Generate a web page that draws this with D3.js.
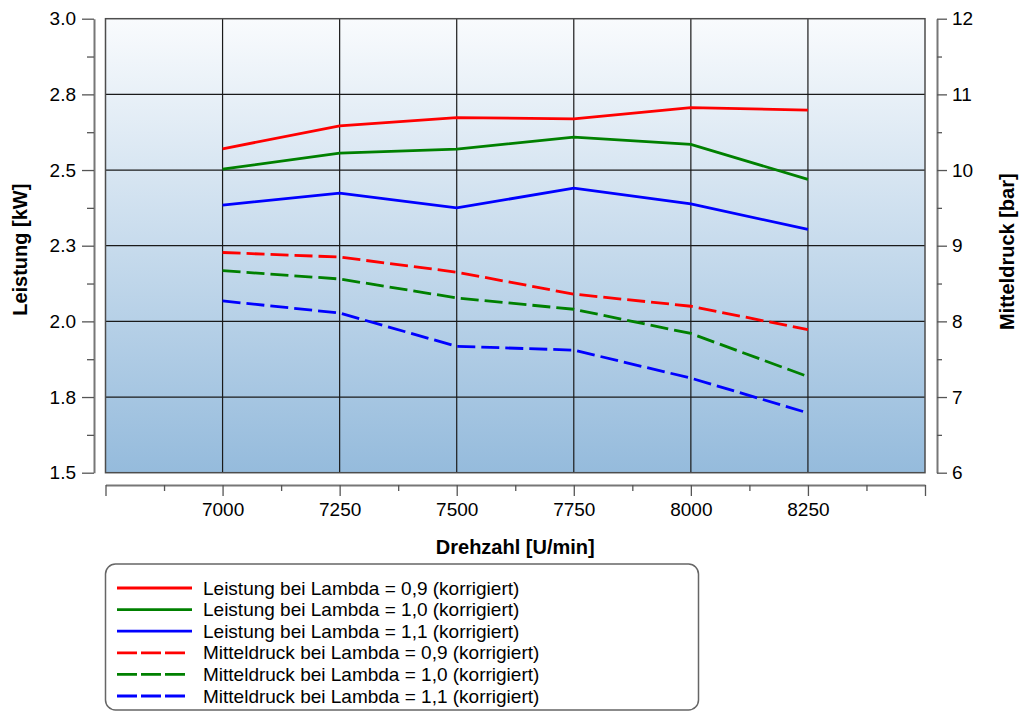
<!DOCTYPE html>
<html>
<head>
<meta charset="utf-8">
<script src="https://cdn.jsdelivr.net/npm/d3@7.9.0/dist/d3.min.js"></script>
<style>
  body { margin: 0; background: #fff; }
  svg { display: block; font-family: "Liberation Sans", Arial, sans-serif; }
</style>
</head>
<body>
<svg id="chart" width="1019" height="711"></svg>
<script>
// Drehzahl (x) values
const rpm = [7000, 7250, 7500, 7750, 8000, 8250];

// Leistung [kW] - left axis
const leistung09 = [2.570, 2.646, 2.673, 2.669, 2.706, 2.698];
const leistung10 = [2.503, 2.556, 2.569, 2.609, 2.585, 2.469];
const leistung11 = [2.384, 2.424, 2.375, 2.440, 2.388, 2.304];

// Mitteldruck [bar] - right axis
const mittel09 = [8.91, 8.85, 8.65, 8.36, 8.20, 7.89];
const mittel10 = [8.67, 8.56, 8.31, 8.16, 7.84, 7.27];
const mittel11 = [8.27, 8.11, 7.67, 7.62, 7.25, 6.79];

const leftTicks = [1.5, 1.75, 2.0, 2.25, 2.5, 2.75, 3.0];
const rightTicks = [6, 7, 8, 9, 10, 11, 12];
const xTicks = [6750, 7000, 7250, 7500, 7750, 8000, 8250, 8500];
const xLabels = [7000, 7250, 7500, 7750, 8000, 8250];

const seriesNames = [
  'Leistung bei Lambda = 0,9 (korrigiert)',
  'Leistung bei Lambda = 1,0 (korrigiert)',
  'Leistung bei Lambda = 1,1 (korrigiert)',
  'Mitteldruck bei Lambda = 0,9 (korrigiert)',
  'Mitteldruck bei Lambda = 1,0 (korrigiert)',
  'Mitteldruck bei Lambda = 1,1 (korrigiert)',
];

const series = [
  { name: seriesNames[0], values: leistung09, color: '#ff0000', axis: 'left', dash: null },
  { name: seriesNames[1], values: leistung10, color: '#008000', axis: 'left', dash: null },
  { name: seriesNames[2], values: leistung11, color: '#0000ff', axis: 'left', dash: null },
  { name: seriesNames[3], values: mittel09, color: '#ff0000', axis: 'right', dash: '18,6' },
  { name: seriesNames[4], values: mittel10, color: '#008000', axis: 'right', dash: '18,6' },
  { name: seriesNames[5], values: mittel11, color: '#0000ff', axis: 'right', dash: '18,6' },
];

const plot = { left: 105.5, right: 925, top: 18.7, bottom: 472.7 };

const svg = d3.select('#chart');

const xScale = d3.scaleLinear().domain([6750, 8500]).range([plot.left, plot.right]);
const yLeft = d3.scaleLinear().domain([1.5, 3.0]).range([plot.bottom, plot.top]);
const yRight = d3.scaleLinear().domain([6, 12]).range([plot.bottom, plot.top]);

// background gradient
const defs = svg.append('defs');
const grad = defs.append('linearGradient')
  .attr('id', 'bg')
  .attr('x1', 0).attr('y1', 0).attr('x2', 0).attr('y2', 1);
grad.append('stop').attr('offset', '0%').attr('stop-color', '#f9fbfd');
grad.append('stop').attr('offset', '100%').attr('stop-color', '#95bbdc');

svg.append('rect')
  .attr('x', plot.left).attr('y', plot.top)
  .attr('width', plot.right - plot.left)
  .attr('height', plot.bottom - plot.top)
  .attr('fill', 'url(#bg)');

// gridlines
const grid = svg.append('g').attr('class', 'grid');
grid.selectAll('line.h')
  .data(leftTicks.slice(1, -1))
  .join('line')
  .attr('class', 'h')
  .attr('x1', plot.left).attr('x2', plot.right)
  .attr('y1', (d) => yLeft(d)).attr('y2', (d) => yLeft(d))
  .attr('stroke', '#1a1a1a').attr('stroke-width', 1.2);
grid.selectAll('line.v')
  .data(xLabels)
  .join('line')
  .attr('class', 'v')
  .attr('y1', plot.top).attr('y2', plot.bottom)
  .attr('x1', (d) => xScale(d)).attr('x2', (d) => xScale(d))
  .attr('stroke', '#1a1a1a').attr('stroke-width', 1.2);

svg.append('rect')
  .attr('x', plot.left).attr('y', plot.top)
  .attr('width', plot.right - plot.left)
  .attr('height', plot.bottom - plot.top)
  .attr('fill', 'none')
  .attr('stroke', '#4d4d4d')
  .attr('stroke-width', 1.5);

// lines
const lines = svg.append('g').attr('class', 'lines');
series.forEach((s) => {
  const y = s.axis === 'left' ? yLeft : yRight;
  const line = d3.line()
    .x((d, i) => xScale(rpm[i]))
    .y((d) => y(d));
  lines.append('path')
    .datum(s.values)
    .attr('d', line)
    .attr('fill', 'none')
    .attr('stroke', s.color)
    .attr('stroke-width', 2.8)
    .attr('stroke-dasharray', s.dash);
});

// axes
function styleAxis(g) {
  g.select('.domain').attr('stroke', '#777').attr('stroke-width', 2);
  g.selectAll('.tick line').attr('stroke', '#555').attr('stroke-width', 1.3);
  g.selectAll('.tick text').attr('fill', '#000').style('font-size', '19px')
    .style('font-family', '"Liberation Sans", Arial, sans-serif');
}

const minorLeft = d3.range(1.625, 3.0, 0.25);
const minorRight = d3.range(6.5, 12, 1);
const minorX = d3.range(6875, 8500, 250);

const gl = svg.append('g').attr('transform', 'translate(94,0)');
gl.call(d3.axisLeft(yLeft).tickValues(leftTicks).tickSize(12).tickSizeOuter(0)
  .tickPadding(6).tickFormat((d) => d.toFixed(1)));
gl.append('g').call(d3.axisLeft(yLeft).tickValues(minorLeft).tickSize(7).tickFormat(''))
  .select('.domain').remove();
styleAxis(gl);

const gr = svg.append('g').attr('transform', 'translate(937,0)');
gr.call(d3.axisRight(yRight).tickValues(rightTicks).tickSize(10).tickSizeOuter(0)
  .tickPadding(5).tickFormat((d) => d));
gr.append('g').call(d3.axisRight(yRight).tickValues(minorRight).tickSize(5).tickFormat(''))
  .select('.domain').remove();
styleAxis(gr);

const gx = svg.append('g').attr('transform', 'translate(0,485)');
gx.call(d3.axisBottom(xScale).tickValues(xTicks).tickSize(11).tickSizeOuter(0)
  .tickPadding(7).tickFormat((d) => (xLabels.includes(d) ? d : '')));
gx.append('g').call(d3.axisBottom(xScale).tickValues(minorX).tickSize(6).tickFormat(''))
  .select('.domain').remove();
styleAxis(gx);

// titles
svg.append('text')
  .attr('x', (plot.left + plot.right) / 2).attr('y', 554)
  .attr('text-anchor', 'middle')
  .style('font-size', '20px').style('font-weight', 'bold')
  .text('Drehzahl [U/min]');

svg.append('text')
  .attr('transform', `translate(27,${(plot.top + plot.bottom) / 2 + 4}) rotate(-90)`)
  .attr('text-anchor', 'middle')
  .style('font-size', '20px').style('font-weight', 'bold')
  .text('Leistung [kW]');

svg.append('text')
  .attr('transform', `translate(1014,${(plot.top + plot.bottom) / 2 + 6}) rotate(-90)`)
  .attr('text-anchor', 'middle')
  .style('font-size', '20px').style('font-weight', 'bold')
  .text('Mitteldruck [bar]');

// legend
const legend = svg.append('g').attr('class', 'legend');
legend.append('rect')
  .attr('x', 105.5).attr('y', 564)
  .attr('width', 593).attr('height', 146)
  .attr('rx', 10)
  .attr('fill', '#fff')
  .attr('stroke', '#666')
  .attr('stroke-width', 1.5);

const rows = legend.selectAll('g.row')
  .data(series)
  .join('g')
  .attr('class', 'row')
  .attr('transform', (d, i) => `translate(0,${588 + i * 21.6})`);
rows.append('line')
  .attr('x1', 117).attr('x2', (d) => (d.dash ? 186 : 192))
  .attr('y1', 0).attr('y2', 0)
  .attr('stroke', (d) => d.color)
  .attr('stroke-width', 2.8)
  .attr('stroke-dasharray', (d) => (d.dash ? '20,4' : null));
rows.append('text')
  .attr('x', 203).attr('y', 0)
  .attr('dy', '0.35em')
  .style('font-size', '19px')
  .text((d) => d.name);
</script>
</body>
</html>
